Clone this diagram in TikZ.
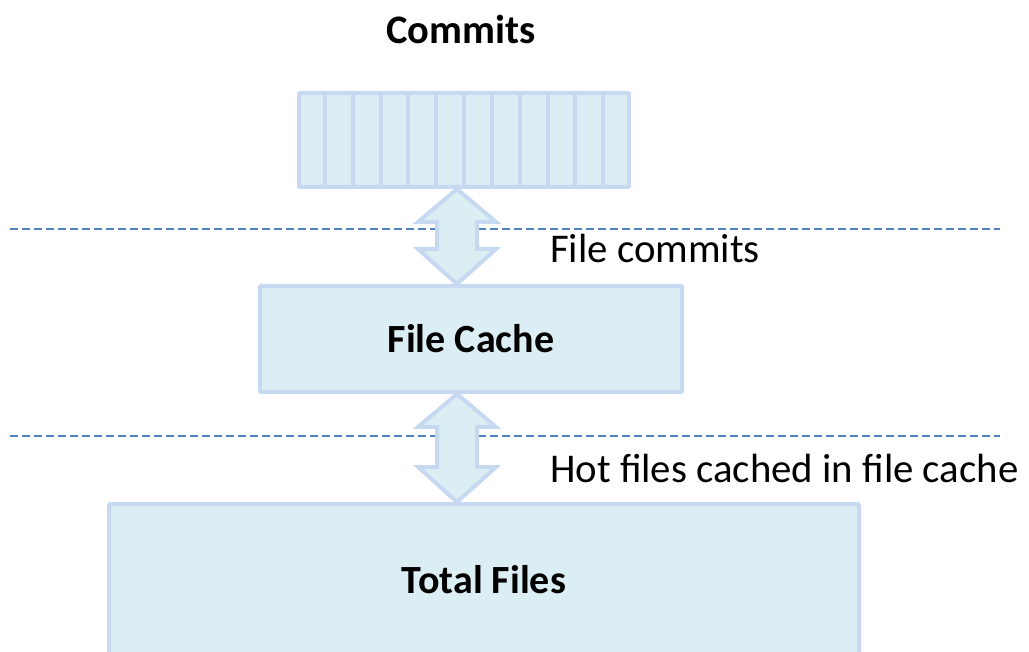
\documentclass[tikz,border=0pt]{standalone}
\usepackage{fontspec}
\setmainfont{Carlito}
\usetikzlibrary{calc}
\definecolor{boxfill}{RGB}{219,238,244}
\definecolor{boxline}{RGB}{198,217,241}
\definecolor{sepline}{RGB}{79,129,189}
\tikzset{
  box/.style={draw=boxline, fill=boxfill, line width=4pt, rounded corners=1pt,
    inner sep=0pt, font=\fontsize{40}{48}\selectfont\bfseries},
  cell/.style={draw=boxline, line width=4pt},
  sep/.style={draw=sepline, line width=1.3pt, dash pattern=on 8pt off 4pt},
  bigarrow/.style={draw=boxline, fill=boxfill, line width=4pt, line join=miter},
  lbl/.style={font=\fontsize{40.8}{48}\selectfont, anchor=west, inner sep=0pt},
  title/.style={font=\fontsize{40.5}{48}\selectfont\bfseries, inner sep=0pt}
}
\begin{document}
\begin{tikzpicture}[x=1pt,y=-1pt]
\useasboundingbox (0,0) rectangle (1029,652);

% separators between the layers
\coordinate (s1a) at (10,229);  \coordinate (s1b) at (1000,229);
\coordinate (s2a) at (10,436);  \coordinate (s2b) at (1000,436);
\draw[sep] (s1a) -- (s1b);
\draw[sep] (s2a) -- (s2b);

% layers
\node[title] (committitle) at (461,29) {Commits};
\node[box, minimum width=330pt, minimum height=94pt] (commits) at (464,140) {};
\foreach \k in {1,...,11}
  \draw[cell] ($(commits.north west)!\k/12!(commits.north east)$) -- ($(commits.south west)!\k/12!(commits.south east)$);
\node[box, minimum width=422pt, minimum height=106pt] (cache) at (471,339) {File Cache};
\node[box, minimum width=750pt, minimum height=152pt] (total) at (484,580) {Total Files};

% two-way transfer arrows
\coordinate (axis) at (457,0);
\foreach \a/\b in {commits/cache, cache/total}{
  \draw[bigarrow] let \p1=(axis |- \a.south), \p2=(axis |- \b.north) in
    (\p1) -- (\x1+39pt,\y1-33pt) -- (\x1+20pt,\y1-33pt) -- (\x1+20pt,\y2+35pt)
    -- (\x1+39pt,\y2+35pt) -- (\p2) -- (\x1-39pt,\y2+35pt) -- (\x1-20pt,\y2+35pt)
    -- (\x1-20pt,\y1-33pt) -- (\x1-39pt,\y1-33pt) -- cycle;
}

% labels of the transfers
\node[lbl] (lbl1) at (550,248) {File commits};
\node[lbl] (lbl2) at (550,468) {Hot files cached in file cache};
\end{tikzpicture}
\end{document}
